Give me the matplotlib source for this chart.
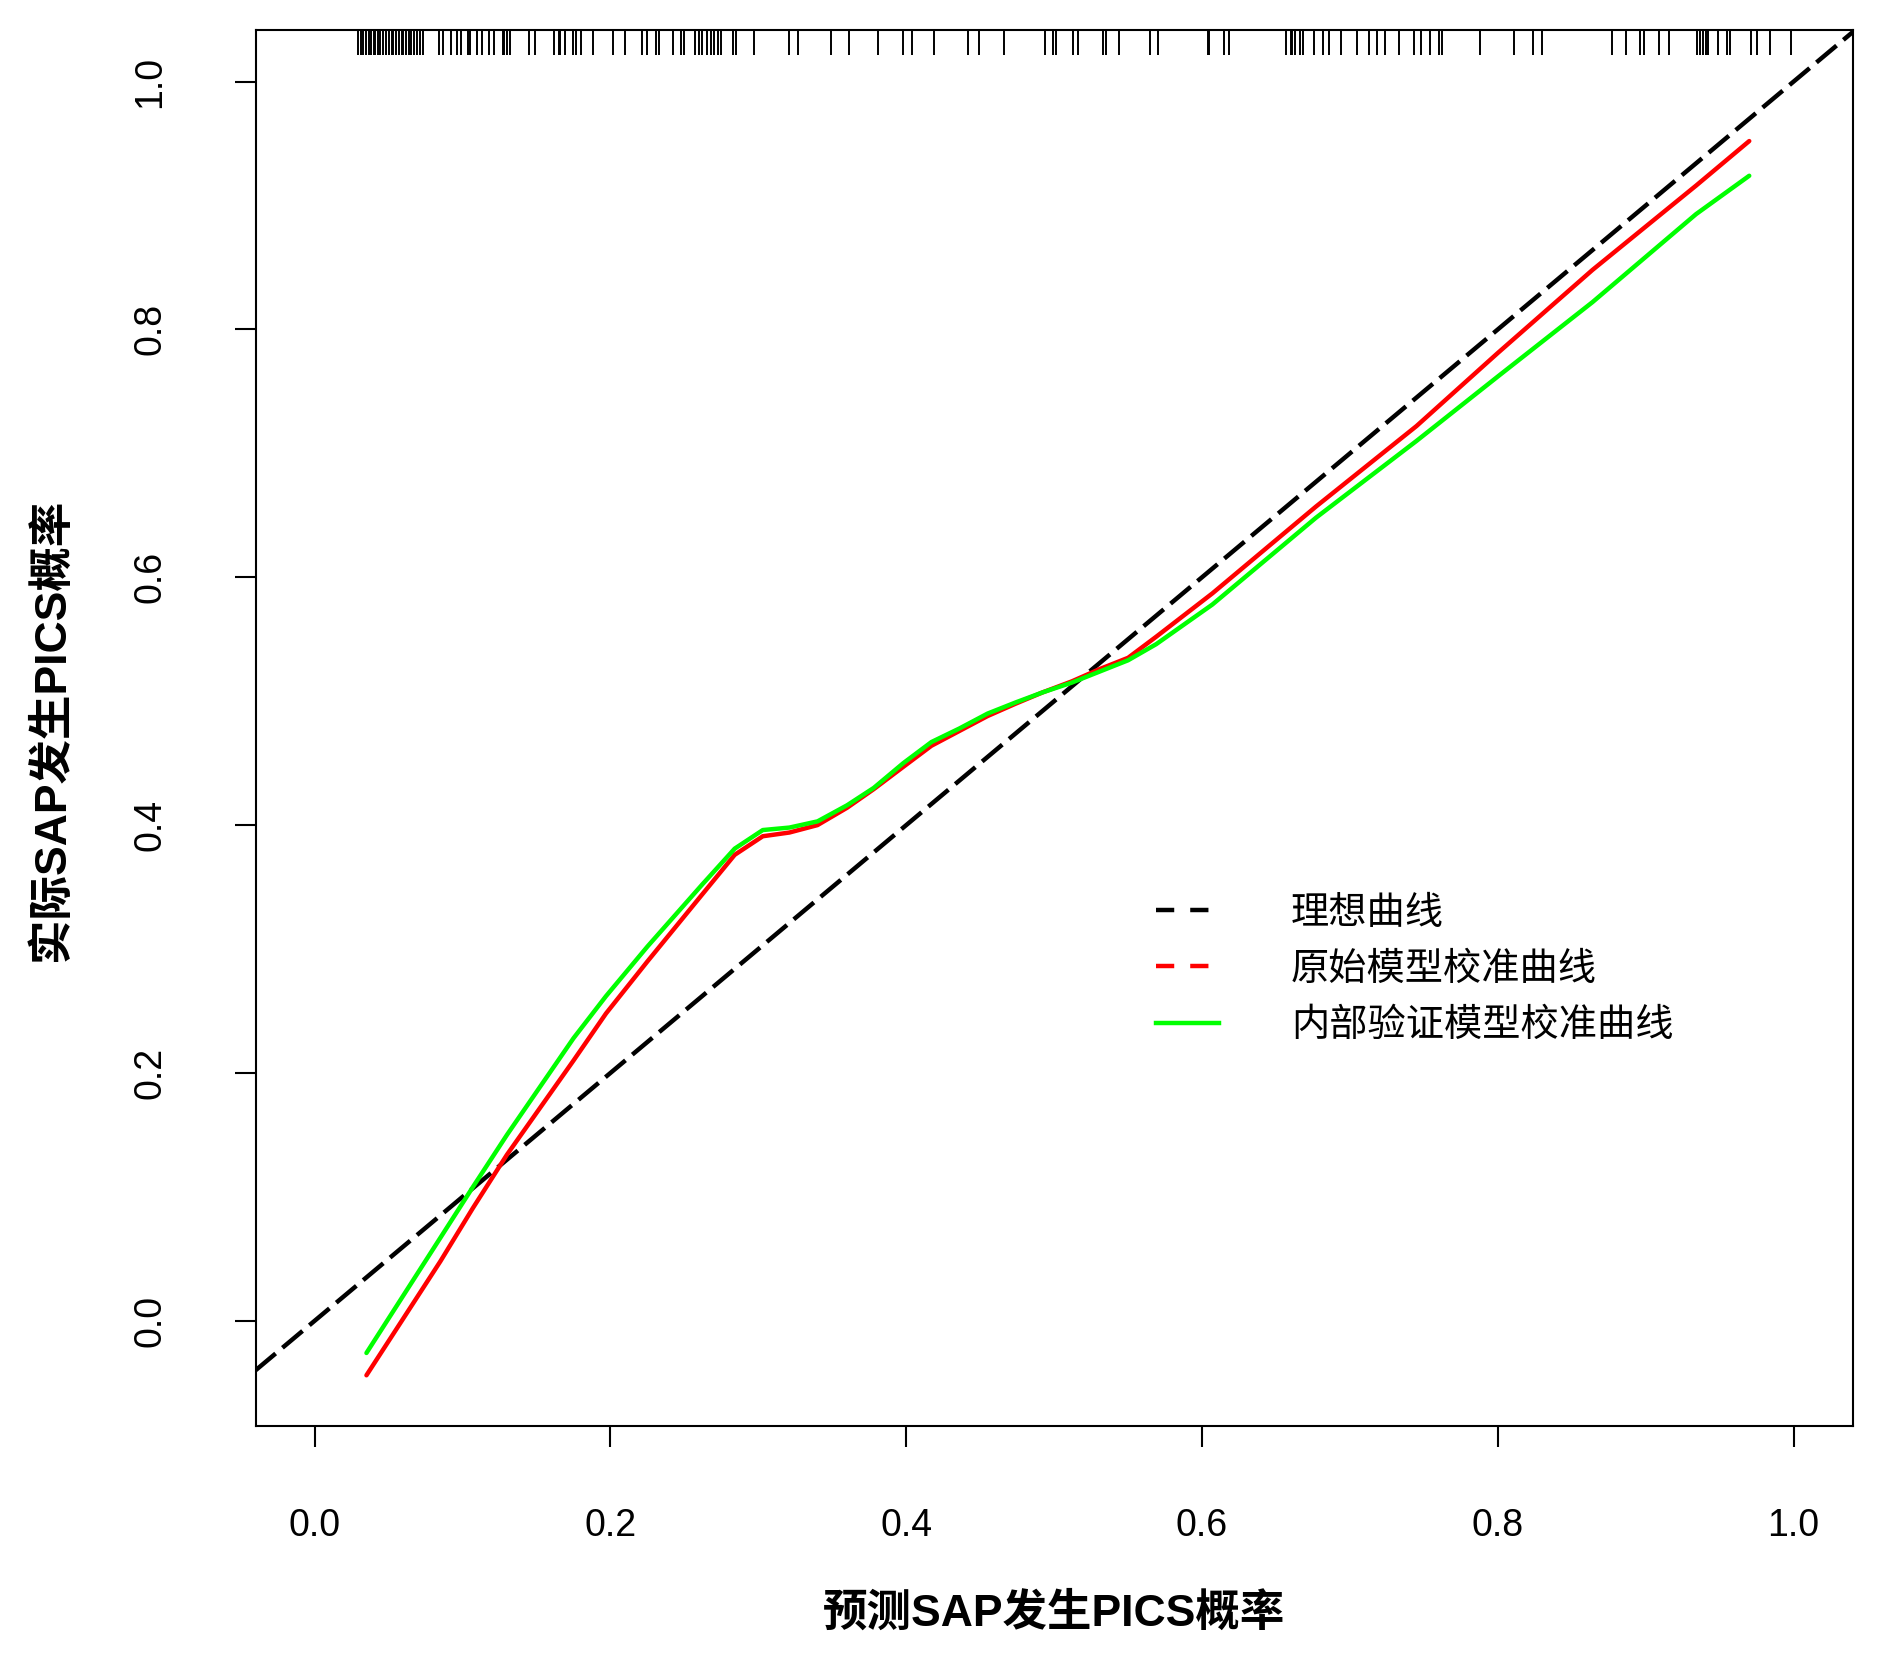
import matplotlib
matplotlib.use("Agg")
import matplotlib.pyplot as plt
from matplotlib.lines import Line2D

# predicted probability grid (vertices)
pred_x = [0.035, 0.085, 0.107, 0.130, 0.175, 0.197, 0.225, 0.262, 0.284, 0.303,
          0.321, 0.340, 0.360, 0.378, 0.398, 0.417, 0.436, 0.455, 0.474, 0.492,
          0.512, 0.531, 0.550, 0.569, 0.607, 0.677, 0.745, 0.800, 0.864, 0.934,
          0.970]
# apparent (original model) calibration
apparent_y = [-0.044, 0.048, 0.091, 0.134, 0.210, 0.248, 0.290, 0.344, 0.376, 0.391,
              0.394, 0.400, 0.414, 0.429, 0.447, 0.464, 0.476, 0.488, 0.498, 0.507,
              0.516, 0.526, 0.535, 0.552, 0.587, 0.657, 0.722, 0.781, 0.848, 0.916,
              0.952]
# bias-corrected (internal validation) calibration
corrected_y = [-0.026, 0.067, 0.108, 0.150, 0.228, 0.262, 0.302, 0.352, 0.381, 0.396,
               0.398, 0.403, 0.416, 0.430, 0.450, 0.467, 0.478, 0.490, 0.499, 0.507,
               0.515, 0.524, 0.533, 0.546, 0.578, 0.648, 0.710, 0.762, 0.822, 0.893,
               0.924]

# rug of predicted probabilities (top of plot)
rug_x = [0.029, 0.031, 0.033, 0.035, 0.037, 0.038, 0.040, 0.041, 0.043, 0.044, 0.046,
         0.048, 0.050, 0.052, 0.053, 0.055, 0.057, 0.059, 0.060, 0.062, 0.064, 0.065,
         0.067, 0.069, 0.071, 0.073, 0.084, 0.087, 0.092, 0.096, 0.099, 0.104, 0.105,
         0.110, 0.113, 0.118, 0.121, 0.127, 0.128, 0.130, 0.132, 0.145, 0.149, 0.162,
         0.165, 0.166, 0.169, 0.175, 0.177, 0.180, 0.188, 0.202, 0.210, 0.221, 0.225,
         0.231, 0.233, 0.242, 0.248, 0.250, 0.257, 0.260, 0.262, 0.265, 0.268, 0.270,
         0.273, 0.275, 0.283, 0.285, 0.297, 0.321, 0.327, 0.349, 0.361, 0.381, 0.398,
         0.404, 0.419, 0.442, 0.449, 0.466, 0.494, 0.499, 0.501, 0.513, 0.516, 0.533,
         0.535, 0.544, 0.565, 0.570, 0.604, 0.605, 0.615, 0.618, 0.657, 0.660, 0.661,
         0.663, 0.666, 0.668, 0.676, 0.682, 0.686, 0.694, 0.705, 0.713, 0.718, 0.724,
         0.733, 0.743, 0.748, 0.754, 0.760, 0.762, 0.788, 0.811, 0.824, 0.830, 0.877,
         0.887, 0.896, 0.899, 0.909, 0.916, 0.935, 0.937, 0.939, 0.941, 0.942, 0.949,
         0.955, 0.957, 0.971, 0.975, 0.984, 0.998]

ticks = [0.0, 0.2, 0.4, 0.6, 0.8, 1.0]
tick_labels = ["0.0", "0.2", "0.4", "0.6", "0.8", "1.0"]
legend_labels = ["理想曲线", "原始模型校准曲线", "内部验证模型校准曲线"]
xlabel = "预测SAP发生PICS概率"
ylabel = "实际SAP发生PICS概率"

fig = plt.figure(figsize=(18.9, 16.68), dpi=100)
ax = fig.add_axes([0.1352, 0.1451, 0.9803 - 0.1352, 0.982 - 0.1451])

lw = 3.2
ax.axline((0, 0), slope=1, color="black", lw=lw, linestyle=(0, (5.9, 2.0)))
ax.plot(pred_x, apparent_y, color="#ff0000", lw=lw, solid_capstyle="round")
ax.plot(pred_x, corrected_y, color="#00ff00", lw=lw, solid_capstyle="round")

ax.vlines(rug_x, 0.982, 1.0, color="black", lw=1.4,
          transform=ax.get_xaxis_transform())

ax.set_xlim(-0.04, 1.04)
ax.set_ylim(-0.0849, 1.0416)

for sp in ax.spines.values():
    sp.set_linewidth(1.5)

ax.set_xticks(ticks)
ax.set_yticks(ticks)
ax.set_xticklabels(tick_labels, family="Liberation Sans", fontsize=27)
ax.set_yticklabels(tick_labels, family="Liberation Sans", fontsize=27,
                   rotation=90, va="center")
ax.tick_params(axis="x", direction="out", length=15, width=1.5, pad=44)
ax.tick_params(axis="y", direction="out", length=15, width=1.5, pad=48)

lab_font = dict(family=["Liberation Sans", "Noto Sans CJK SC"], weight="bold",
                fontsize=32)
ax.set_xlabel(xlabel, va="center", ha="center", **lab_font)
ax.xaxis.set_label_coords(0.5, -0.134)
ax.set_ylabel(ylabel, va="center", ha="center", **lab_font)
ax.yaxis.set_label_coords(-0.128, 0.499)

handles = [
    Line2D([], [], color="black", lw=lw, linestyle=(0, (4.1, 3.6))),
    Line2D([], [], color="#ff0000", lw=lw, linestyle=(0, (4.1, 3.6))),
    Line2D([], [], color="#00ff00", lw=lw),
]
ax.legend(handles, legend_labels, loc="upper left", bbox_to_anchor=(0.552, 0.395),
          frameon=False, borderpad=0, handlelength=1.65, handletextpad=1.87,
          labelspacing=0.45, prop=dict(family=["Noto Sans CJK SC"], size=27.5))

fig.savefig("out.png", dpi=100)
